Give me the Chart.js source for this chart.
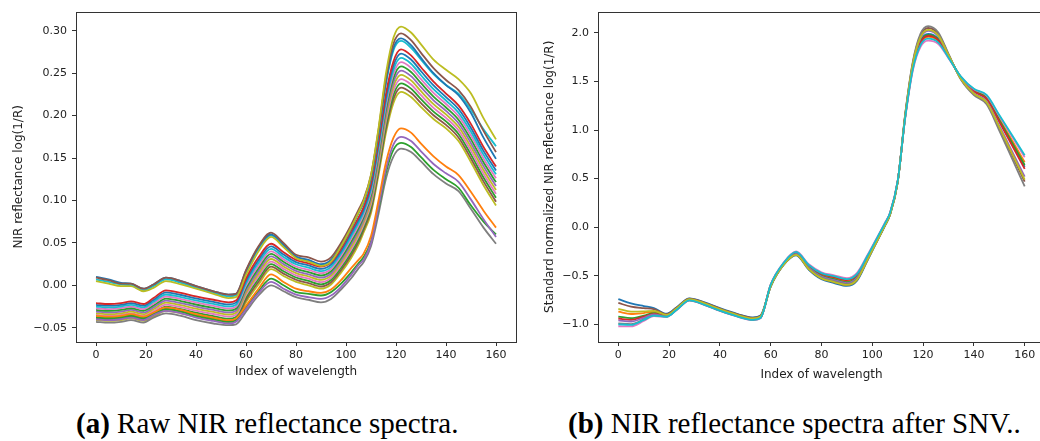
<!DOCTYPE html>
<html>
<head>
<meta charset="utf-8">
<script src="https://cdn.jsdelivr.net/npm/chart.js@4.4.1/dist/chart.umd.min.js"></script>
<style>
  html, body { margin: 0; padding: 0; background: #fff; overflow: hidden; width: 1040px; height: 441px; }
  #chartA { position: absolute; left: 0; top: 0; }
  #chartB { position: absolute; left: 520px; top: 0; }
  .cap { position: absolute; top: 407px; font-family: "Liberation Serif", "Times New Roman", serif; font-size: 29px; color: #000; white-space: nowrap; }
</style>
</head>
<body>
<canvas id="chartA" width="520" height="390"></canvas>
<canvas id="chartB" width="530" height="390"></canvas>
<div class="cap" id="capA" style="left:76px"><b>(a)</b> Raw NIR reflectance spectra.</div>
<div class="cap" id="capB" style="left:568px"><b>(b)</b> NIR reflectance spectra after SNV..</div>
<script>
// indice de longitud de onda donde se leyeron los valores
const wavelengthIdx = [0, 5, 10, 14, 19, 23, 28, 34, 40, 47, 53, 56, 60, 65, 70, 75, 80, 85, 90, 94, 98, 102, 105, 107, 110, 113, 116, 119, 122, 126, 130, 135, 140, 145, 150, 155, 160];

const xTicks = [0, 20, 40, 60, 80, 100, 120, 140, 160];
const yTicksRaw = [-0.05, 0, 0.05, 0.10, 0.15, 0.20, 0.25, 0.30];
const yTicksSnv = [-1.0, -0.5, 0, 0.5, 1.0, 1.5, 2.0];

const tab10 = ['#1f77b4', '#ff7f0e', '#2ca02c', '#d62728', '#9467bd', '#8c564b', '#e377c2', '#7f7f7f', '#bcbd22', '#17becf'];

// (a) espectros crudos - grupo de arriba
const rawTopOlive = [0.005, 0.002, -0.001, -0.001, -0.007, -0.003, 0.005, 0.001, -0.004, -0.010, -0.015, -0.014, 0.012, 0.040, 0.057, 0.045, 0.032, 0.028, 0.023, 0.028, 0.046, 0.068, 0.086, 0.099, 0.130, 0.185, 0.250, 0.292, 0.305, 0.298, 0.284, 0.266, 0.254, 0.243, 0.226, 0.197, 0.172];
const rawTopBrown = [0.009, 0.006, 0.002, 0.002, -0.004, 0.001, 0.009, 0.005, -0.001, -0.007, -0.011, -0.010, 0.018, 0.046, 0.062, 0.050, 0.036, 0.033, 0.028, 0.033, 0.050, 0.071, 0.089, 0.101, 0.130, 0.183, 0.245, 0.285, 0.297, 0.289, 0.274, 0.256, 0.242, 0.230, 0.210, 0.182, 0.157];
const rawTopBlue = [0.010, 0.007, 0.003, 0.002, -0.004, 0.001, 0.009, 0.005, -0.001, -0.007, -0.011, -0.010, 0.017, 0.045, 0.060, 0.048, 0.034, 0.030, 0.025, 0.030, 0.047, 0.068, 0.086, 0.098, 0.127, 0.180, 0.240, 0.280, 0.291, 0.283, 0.268, 0.250, 0.236, 0.224, 0.203, 0.174, 0.149];
const rawTopCyan = [0.007, 0.004, 0.001, 0.000, -0.006, -0.001, 0.007, 0.003, -0.003, -0.009, -0.013, -0.012, 0.015, 0.043, 0.059, 0.047, 0.033, 0.029, 0.024, 0.029, 0.046, 0.067, 0.085, 0.097, 0.126, 0.178, 0.238, 0.277, 0.288, 0.280, 0.266, 0.249, 0.236, 0.226, 0.207, 0.184, 0.164];

// banda principal
const rawMid01 = [-0.021, -0.022, -0.021, -0.019, -0.022, -0.015, -0.006, -0.009, -0.013, -0.017, -0.020, -0.018, 0.008, 0.033, 0.049, 0.039, 0.030, 0.026, 0.022, 0.027, 0.043, 0.064, 0.080, 0.092, 0.120, 0.170, 0.226, 0.264, 0.278, 0.271, 0.257, 0.240, 0.226, 0.212, 0.190, 0.163, 0.140];
const rawMid02 = [-0.023, -0.024, -0.023, -0.021, -0.024, -0.0172, -0.0084, -0.0114, -0.0154, -0.0194, -0.0224, -0.0204, 0.0052, 0.0298, 0.046, 0.0362, 0.0274, 0.0234, 0.0194, 0.0244, 0.0402, 0.0608, 0.0768, 0.089, 0.1165, 0.166, 0.2214, 0.2591, 0.273, 0.2661, 0.2523, 0.2356, 0.2219, 0.2078, 0.1855, 0.1585, 0.1354];
const rawMid03 = [-0.025, -0.026, -0.025, -0.023, -0.026, -0.0194, -0.0108, -0.0138, -0.0178, -0.0218, -0.0248, -0.0228, 0.0024, 0.0266, 0.043, 0.0334, 0.0248, 0.0208, 0.0168, 0.0218, 0.0374, 0.0576, 0.0736, 0.086, 0.113, 0.162, 0.2168, 0.2542, 0.268, 0.2612, 0.2476, 0.2312, 0.2178, 0.2036, 0.181, 0.154, 0.1308];
const rawMid04 = [-0.027, -0.028, -0.027, -0.025, -0.028, -0.0216, -0.0132, -0.0162, -0.0202, -0.0242, -0.0272, -0.0252, -0.0004, 0.0234, 0.040, 0.0306, 0.0222, 0.0182, 0.0142, 0.0192, 0.0346, 0.0544, 0.0704, 0.083, 0.1095, 0.158, 0.2122, 0.2493, 0.263, 0.2563, 0.2429, 0.2268, 0.2137, 0.1994, 0.1765, 0.1495, 0.1262];
const rawMid05 = [-0.029, -0.030, -0.029, -0.027, -0.030, -0.0238, -0.0156, -0.0186, -0.0226, -0.0266, -0.0296, -0.0276, -0.0032, 0.0202, 0.037, 0.0278, 0.0196, 0.0156, 0.0116, 0.0166, 0.0318, 0.0512, 0.0672, 0.080, 0.106, 0.154, 0.2076, 0.2444, 0.258, 0.2514, 0.2382, 0.2224, 0.2096, 0.1952, 0.172, 0.145, 0.1216];
const rawMid06 = [-0.031, -0.032, -0.031, -0.029, -0.032, -0.026, -0.018, -0.021, -0.025, -0.029, -0.032, -0.030, -0.006, 0.017, 0.034, 0.025, 0.017, 0.013, 0.009, 0.014, 0.029, 0.048, 0.064, 0.077, 0.1025, 0.150, 0.203, 0.2395, 0.253, 0.2465, 0.2335, 0.218, 0.2055, 0.191, 0.1675, 0.1405, 0.117];
const rawMid07 = [-0.033, -0.034, -0.033, -0.031, -0.034, -0.0282, -0.0204, -0.0234, -0.0274, -0.0314, -0.0344, -0.0324, -0.0088, 0.0138, 0.031, 0.0222, 0.0144, 0.0104, 0.0064, 0.0114, 0.0262, 0.0448, 0.0608, 0.074, 0.099, 0.146, 0.1984, 0.2346, 0.248, 0.2416, 0.2288, 0.2136, 0.2014, 0.1868, 0.163, 0.136, 0.1124];
const rawMid08 = [-0.035, -0.036, -0.035, -0.033, -0.036, -0.0304, -0.0228, -0.0258, -0.0298, -0.0338, -0.0368, -0.0348, -0.0116, 0.0106, 0.028, 0.0194, 0.0118, 0.0078, 0.0038, 0.0088, 0.0234, 0.0416, 0.0576, 0.071, 0.0955, 0.142, 0.1938, 0.2297, 0.243, 0.2367, 0.2241, 0.2092, 0.1973, 0.1826, 0.1585, 0.1315, 0.1078];
const rawMid09 = [-0.037, -0.038, -0.037, -0.035, -0.038, -0.0326, -0.0252, -0.0282, -0.0322, -0.0362, -0.0392, -0.0372, -0.0144, 0.0074, 0.025, 0.0166, 0.0092, 0.0052, 0.0012, 0.0062, 0.0206, 0.0384, 0.0544, 0.068, 0.092, 0.138, 0.1892, 0.2248, 0.238, 0.2318, 0.2194, 0.2048, 0.1932, 0.1784, 0.154, 0.127, 0.1032];
const rawMid10 = [-0.039, -0.040, -0.039, -0.037, -0.040, -0.0348, -0.0276, -0.0306, -0.0346, -0.0386, -0.0416, -0.0396, -0.0172, 0.0042, 0.022, 0.0138, 0.0066, 0.0026, -0.0014, 0.0036, 0.0178, 0.0352, 0.0512, 0.065, 0.0885, 0.134, 0.1846, 0.2199, 0.233, 0.2269, 0.2147, 0.2004, 0.1891, 0.1742, 0.1495, 0.1225, 0.0986];
const rawMid11 = [-0.041, -0.042, -0.041, -0.039, -0.042, -0.037, -0.030, -0.033, -0.037, -0.041, -0.044, -0.042, -0.020, 0.001, 0.019, 0.011, 0.004, 0.000, -0.004, 0.001, 0.015, 0.032, 0.048, 0.062, 0.085, 0.130, 0.180, 0.215, 0.228, 0.222, 0.210, 0.196, 0.185, 0.170, 0.145, 0.118, 0.094];

// grupo de abajo
const rawLowOrange = [-0.036, -0.037, -0.036, -0.034, -0.037, -0.032, -0.026, -0.029, -0.034, -0.038, -0.041, -0.039, -0.024, -0.004, 0.013, 0.004, -0.004, -0.007, -0.009, -0.005, 0.006, 0.020, 0.030, 0.037, 0.058, 0.100, 0.145, 0.174, 0.185, 0.180, 0.167, 0.152, 0.140, 0.130, 0.110, 0.088, 0.068];
const rawLowPurple = [-0.040, -0.041, -0.040, -0.038, -0.041, -0.035, -0.030, -0.033, -0.038, -0.042, -0.045, -0.043, -0.028, -0.009, 0.004, -0.004, -0.011, -0.014, -0.016, -0.012, -0.002, 0.012, 0.024, 0.030, 0.050, 0.092, 0.137, 0.166, 0.175, 0.170, 0.158, 0.143, 0.132, 0.122, 0.101, 0.078, 0.057];
const rawLowGreen = [-0.038, -0.039, -0.038, -0.036, -0.039, -0.034, -0.028, -0.031, -0.036, -0.040, -0.043, -0.041, -0.026, -0.007, 0.008, 0.000, -0.008, -0.010, -0.012, -0.008, 0.002, 0.015, 0.026, 0.033, 0.052, 0.090, 0.133, 0.160, 0.168, 0.163, 0.151, 0.136, 0.125, 0.115, 0.094, 0.075, 0.060];
const rawLowGrey = [-0.043, -0.044, -0.043, -0.041, -0.044, -0.038, -0.033, -0.036, -0.041, -0.045, -0.047, -0.046, -0.031, -0.012, 0.000, -0.007, -0.014, -0.017, -0.020, -0.016, -0.005, 0.008, 0.020, 0.027, 0.046, 0.084, 0.126, 0.152, 0.161, 0.157, 0.146, 0.131, 0.120, 0.111, 0.090, 0.068, 0.049];

// (b) despues de SNV
const snvBlue = [-0.740, -0.784, -0.812, -0.832, -0.891, -0.824, -0.732, -0.774, -0.834, -0.894, -0.929, -0.909, -0.612, -0.392, -0.290, -0.438, -0.536, -0.575, -0.605, -0.550, -0.348, -0.140, 0.014, 0.128, 0.462, 1.150, 1.660, 1.920, 1.990, 1.940, 1.760, 1.535, 1.400, 1.325, 1.095, 0.858, 0.620];
const snvOrange = [-0.870, -0.894, -0.884, -0.871, -0.906, -0.837, -0.743, -0.787, -0.847, -0.907, -0.942, -0.922, -0.597, -0.377, -0.265, -0.403, -0.491, -0.525, -0.555, -0.500, -0.313, -0.115, 0.034, 0.143, 0.472, 1.141, 1.642, 1.893, 1.960, 1.916, 1.751, 1.540, 1.410, 1.340, 1.120, 0.895, 0.670];
const snvGreen = [-0.920, -0.937, -0.911, -0.886, -0.912, -0.842, -0.747, -0.792, -0.852, -0.912, -0.947, -0.927, -0.600, -0.380, -0.270, -0.410, -0.500, -0.535, -0.565, -0.510, -0.320, -0.120, 0.030, 0.140, 0.470, 1.147, 1.654, 1.911, 1.980, 1.932, 1.757, 1.537, 1.404, 1.331, 1.105, 0.873, 0.640];
const snvRed = [-0.940, -0.954, -0.922, -0.892, -0.915, -0.844, -0.748, -0.794, -0.854, -0.914, -0.949, -0.929, -0.594, -0.374, -0.260, -0.396, -0.482, -0.515, -0.545, -0.490, -0.306, -0.110, 0.038, 0.146, 0.474, 1.144, 1.648, 1.902, 1.970, 1.924, 1.754, 1.533, 1.396, 1.319, 1.085, 0.843, 0.600];
const snvPurple = [-0.960, -0.971, -0.933, -0.898, -0.917, -0.846, -0.750, -0.796, -0.856, -0.916, -0.951, -0.931, -0.603, -0.383, -0.275, -0.417, -0.509, -0.545, -0.575, -0.520, -0.327, -0.125, 0.026, 0.137, 0.468, 1.159, 1.678, 1.947, 2.020, 1.964, 1.769, 1.525, 1.380, 1.295, 1.045, 0.783, 0.520];
const snvBrown = [-0.780, -0.818, -0.834, -0.844, -0.896, -0.828, -0.735, -0.778, -0.838, -0.898, -0.933, -0.913, -0.609, -0.389, -0.285, -0.431, -0.527, -0.565, -0.595, -0.540, -0.341, -0.135, 0.018, 0.131, 0.464, 1.168, 1.696, 1.974, 2.050, 1.988, 1.778, 1.520, 1.370, 1.280, 1.020, 0.745, 0.470];
const snvPink = [-1.020, -1.022, -0.966, -0.916, -0.924, -0.852, -0.755, -0.802, -0.862, -0.922, -0.957, -0.937, -0.588, -0.368, -0.250, -0.382, -0.464, -0.495, -0.525, -0.470, -0.292, -0.100, 0.046, 0.152, 0.478, 1.129, 1.618, 1.857, 1.920, 1.884, 1.739, 1.545, 1.420, 1.355, 1.145, 0.933, 0.720];
const snvGrey = [-0.990, -0.997, -0.950, -0.907, -0.921, -0.849, -0.752, -0.799, -0.859, -0.919, -0.954, -0.934, -0.606, -0.386, -0.280, -0.424, -0.518, -0.555, -0.585, -0.530, -0.334, -0.130, 0.022, 0.134, 0.466, 1.174, 1.708, 1.992, 2.070, 2.004, 1.784, 1.515, 1.360, 1.265, 0.995, 0.708, 0.420];
const snvOlive = [-0.840, -0.869, -0.867, -0.862, -0.903, -0.834, -0.740, -0.784, -0.844, -0.904, -0.939, -0.919, -0.609, -0.389, -0.285, -0.431, -0.527, -0.565, -0.595, -0.540, -0.341, -0.135, 0.018, 0.131, 0.464, 1.162, 1.684, 1.956, 2.030, 1.972, 1.772, 1.522, 1.374, 1.286, 1.030, 0.760, 0.490];
const snvCyan = [-1.000, -1.005, -0.955, -0.910, -0.922, -0.850, -0.753, -0.800, -0.860, -0.920, -0.955, -0.935, -0.591, -0.371, -0.255, -0.389, -0.473, -0.505, -0.535, -0.480, -0.299, -0.105, 0.042, 0.149, 0.476, 1.135, 1.630, 1.875, 1.940, 1.900, 1.745, 1.547, 1.424, 1.361, 1.155, 0.948, 0.740];

// orden de dibujo como en matplotlib: el ultimo queda encima
const rawSeries = [
  [rawMid11, tab10[8]], [rawMid10, tab10[5]], [rawMid09, tab10[2]], [rawMid08, tab10[6]],
  [rawMid07, tab10[8]], [rawMid06, tab10[4]], [rawMid05, tab10[2]], [rawMid04, tab10[6]],
  [rawMid03, tab10[9]], [rawMid02, tab10[0]], [rawMid01, tab10[3]],
  [rawLowGrey, tab10[7]], [rawLowGreen, tab10[2]], [rawLowPurple, tab10[4]], [rawLowOrange, tab10[1]],
  [rawTopCyan, tab10[9]], [rawTopBlue, tab10[0]], [rawTopBrown, tab10[5]], [rawTopOlive, tab10[8]]
];
const snvSeries = [
  [snvBlue, tab10[0]], [snvOrange, tab10[1]], [snvGreen, tab10[2]], [snvRed, tab10[3]], [snvPurple, tab10[4]],
  [snvBrown, tab10[5]], [snvPink, tab10[6]], [snvGrey, tab10[7]], [snvOlive, tab10[8]], [snvCyan, tab10[9]]
];

const fmt = (v, d) => (v < -1e-9 ? '\u2212' : '') + Math.abs(v).toFixed(d);

// marco completo (spines de matplotlib)
const frame = {
  id: 'frame',
  afterDatasetsDraw(chart) {
    const { ctx, chartArea: a } = chart;
    ctx.save();
    ctx.strokeStyle = '#333';
    ctx.lineWidth = 1;
    ctx.strokeRect(Math.round(a.left) + 0.5, Math.round(a.top) + 0.5, Math.round(a.right - a.left), Math.round(a.bottom - a.top));
    ctx.restore();
  }
};

let hacerGrafico = (id, series, cfg) => {
  const datasets = series.slice().reverse().map(([vals, color]) => ({
    data: vals.map((v, i) => ({ x: wavelengthIdx[i], y: v })),
    borderColor: color,
    borderWidth: 1.8,
    pointRadius: 0,
    fill: false,
    cubicInterpolationMode: 'monotone'
  }));
  const tickFont = { family: 'DejaVu Sans', size: 11 };
  const titleFont = { family: 'DejaVu Sans', size: 12 };
  return new Chart(document.getElementById(id), {
    type: 'line',
    data: { datasets },
    options: {
      responsive: false,
      animation: false,
      events: [],
      layout: { padding: { top: cfg.padTop, right: cfg.padRight, left: 0, bottom: 0 } },
      plugins: { legend: { display: false }, tooltip: { enabled: false } },
      scales: {
        x: {
          type: 'linear', min: -8, max: 168,
          afterFit: s => { s.height = 48; },
          afterBuildTicks: s => { s.ticks = xTicks.map(v => ({ value: v })); },
          ticks: { font: tickFont, color: '#222', padding: 3, maxRotation: 0, callback: v => String(v) },
          grid: { drawOnChartArea: false, drawTicks: true, tickLength: 4, color: '#333' },
          border: { display: false },
          title: { display: true, text: 'Index of wavelength', font: titleFont, color: '#222', padding: { top: 0, bottom: cfg.xTitlePad } }
        },
        y: {
          type: 'linear', min: cfg.yMin, max: cfg.yMax,
          afterFit: s => { s.width = cfg.yWidth; },
          afterBuildTicks: s => { s.ticks = cfg.yTicks.map(v => ({ value: v })); },
          ticks: { font: tickFont, color: '#222', padding: 5, callback: v => fmt(v, cfg.dec) },
          grid: { drawOnChartArea: false, drawTicks: true, tickLength: 4, color: '#333' },
          border: { display: false },
          title: { display: true, text: cfg.yTitle, font: titleFont, color: '#222', padding: { top: cfg.yTitlePad, bottom: 0 } }
        }
      }
    },
    plugins: [frame]
  });
};

hacerGrafico('chartA', rawSeries, {
  padTop: 10, padRight: 4, yWidth: 76, yMin: -0.0668, yMax: 0.3226, yTicks: yTicksRaw, dec: 2,
  yTitle: 'NIR reflectance log(1/R)', yTitlePad: 12, xTitlePad: 11
});
hacerGrafico('chartB', snvSeries, {
  padTop: 11, padRight: 5, yWidth: 78, yMin: -1.182, yMax: 2.219, yTicks: yTicksSnv, dec: 1,
  yTitle: 'Standard normalized NIR reflectance log(1/R)', yTitlePad: 22.5, xTitlePad: 8
});
</script>
</body>
</html>
